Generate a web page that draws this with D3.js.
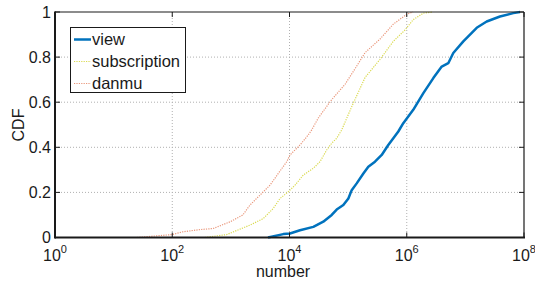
<!DOCTYPE html>
<html><head><meta charset="utf-8">
<script src="https://cdn.jsdelivr.net/npm/d3@7"></script>
<style>body{margin:0;background:#fff}svg{display:block;font-family:"Liberation Sans",Arial,sans-serif}</style>
</head><body><svg id="c" width="535" height="283"></svg>
<script>
const seriesNames = ["view", "subscription", "danmu"];
const viewX = [4.3e3, 7.84e3, 1.02e4, 1.51e4, 2.55e4, 3.77e4, 5.25e4, 6.38e4, 8.28e4, 1.01e5, 1.15e5, 1.40e5, 1.82e5, 2.21e5, 2.87e5, 3.74e5, 4.84e5, 5.90e5, 7.18e5, 8.73e5, 1.29e6, 1.92e6, 2.84e6, 3.95e6, 5.11e6, 6.22e6, 9.22e6, 1.56e7, 2.31e7, 3.89e7, 6.57e7, 8.55e7];
const viewY = [0, 0.015, 0.018, 0.032, 0.047, 0.07, 0.10, 0.124, 0.144, 0.173, 0.21, 0.24, 0.284, 0.314, 0.336, 0.366, 0.41, 0.44, 0.47, 0.507, 0.566, 0.64, 0.707, 0.758, 0.773, 0.818, 0.87, 0.93, 0.958, 0.98, 0.995, 1.0];
const subX = [360, 850, 2.12e3, 3.57e3, 5.29e3, 6.89e3, 9.55e3, 1.24e4, 1.72e4, 2.55e4, 3.31e4, 4.31e4, 5.25e4, 6.38e4, 7.77e4, 1.15e5, 1.95e5, 3.5e5, 5.9e5, 9.33e5, 1.29e6, 1.92e6, 2.8e6];
const subY = [0, 0.013, 0.055, 0.084, 0.129, 0.173, 0.203, 0.232, 0.277, 0.307, 0.336, 0.388, 0.418, 0.44, 0.477, 0.58, 0.71, 0.79, 0.87, 0.92, 0.966, 0.995, 1.0];
const danmuX = [25, 100, 150, 295, 500, 980, 1.6e3, 2.12e3, 3.14e3, 4.65e3, 6.44e3, 8.96e3, 1.02e4, 1.51e4, 2.09e4, 2.39e4, 3.1e4, 5.2e4, 8.9e4, 1.4e5, 1.95e5, 3.5e5, 5.9e5, 1.0e6, 1.28e6];
const danmuY = [0, 0.013, 0.025, 0.035, 0.04, 0.07, 0.10, 0.144, 0.188, 0.232, 0.284, 0.336, 0.366, 0.41, 0.455, 0.477, 0.53, 0.61, 0.68, 0.76, 0.82, 0.88, 0.946, 0.99, 1.0];
const xTickExps = [0, 2, 4, 6, 8];
const yTicks = [0, 0.2, 0.4, 0.6, 0.8, 1];
const yTickLabels = ["0", "0.2", "0.4", "0.6", "0.8", "1"];

const svg = d3.select("#c");
const L = 55, R = 524, T = 12, B = 237.5;
const x = d3.scaleLog().domain([1, 1e8]).range([L, R]);
const y = d3.scaleLinear().domain([0, 1]).range([B, T]);

// grid
const g = svg.append("g");
xTickExps.slice(1, -1).forEach(e => {
  g.append("line").attr("x1", x(10 ** e)).attr("x2", x(10 ** e)).attr("y1", T).attr("y2", B)
    .attr("stroke", "#b0b0b0").attr("stroke-width", 1).attr("stroke-dasharray", "1,2");
});
yTicks.slice(1, -1).forEach(v => {
  g.append("line").attr("x1", L).attr("x2", R).attr("y1", y(v)).attr("y2", y(v))
    .attr("stroke", "#b0b0b0").attr("stroke-width", 1).attr("stroke-dasharray", "1,2");
});

// curves
const mk = (xs, ys) => xs.map((v, i) => [v, ys[i]]);
const line = d3.line().x(d => x(d[0])).y(d => y(d[1]));
svg.append("path").datum(mk(danmuX, danmuY)).attr("d", line).attr("fill", "none")
  .attr("stroke", "#e9967a").attr("stroke-width", 1.2).attr("stroke-dasharray", "1.2,1.2");
svg.append("path").datum(mk(subX, subY)).attr("d", line).attr("fill", "none")
  .attr("stroke", "#dada50").attr("stroke-width", 1.2).attr("stroke-dasharray", "1.2,1.2");
svg.append("path").datum(mk(viewX, viewY)).attr("d", line).attr("fill", "none")
  .attr("stroke", "#0072BD").attr("stroke-width", 2.5).attr("stroke-linejoin", "round");

// axes box
const ax = svg.append("g").attr("stroke", "#1a1a1a");
ax.append("line").attr("x1", L).attr("x2", R).attr("y1", T).attr("y2", T).attr("stroke-width", 1.2);
ax.append("line").attr("x1", R).attr("x2", R).attr("y1", T).attr("y2", B).attr("stroke-width", 1.2);
ax.append("line").attr("x1", L).attr("x2", R + 1).attr("y1", B).attr("y2", B).attr("stroke-width", 2);
ax.append("line").attr("x1", L).attr("x2", L).attr("y1", T - 0.5).attr("y2", B + 1).attr("stroke-width", 2);
// ticks inside
xTickExps.forEach(e => {
  const px = x(10 ** e);
  ax.append("line").attr("x1", px).attr("x2", px).attr("y1", B).attr("y2", B - 5).attr("stroke-width", 1);
  ax.append("line").attr("x1", px).attr("x2", px).attr("y1", T).attr("y2", T + 5).attr("stroke-width", 1);
});
yTicks.forEach(v => {
  ax.append("line").attr("x1", L).attr("x2", L + 5).attr("y1", y(v)).attr("y2", y(v)).attr("stroke-width", 1);
  ax.append("line").attr("x1", R).attr("x2", R - 5).attr("y1", y(v)).attr("y2", y(v)).attr("stroke-width", 1);
});

// tick labels
yTicks.forEach((v, i) => {
  svg.append("text").attr("x", 51).attr("y", y(v) + 5.5).attr("text-anchor", "end")
    .attr("font-size", 16).attr("fill", "#1a1a1a").text(yTickLabels[i]);
});
xTickExps.forEach(e => {
  const t = svg.append("text").attr("x", x(10 ** e)).attr("y", 261).attr("text-anchor", "middle")
    .attr("font-size", 16).attr("fill", "#1a1a1a");
  t.append("tspan").text("10");
  t.append("tspan").attr("dy", -8).attr("font-size", 11).text(String(e));
});
svg.append("text").attr("x", 283).attr("y", 277).attr("text-anchor", "middle")
  .attr("font-size", 16).attr("fill", "#1a1a1a").text("number");
svg.append("text").attr("transform", "translate(24,125) rotate(-90)").attr("text-anchor", "middle")
  .attr("font-size", 16).attr("fill", "#1a1a1a").text("CDF");

// legend
const lg = svg.append("g");
lg.append("rect").attr("x", 70.5).attr("y", 27.5).attr("width", 115).attr("height", 65)
  .attr("fill", "#fff").attr("stroke", "#1a1a1a").attr("stroke-width", 1);
const styles = [
  {c: "#0072BD", w: 2.5, d: null},
  {c: "#dada50", w: 1.2, d: "1.2,1.2"},
  {c: "#e9967a", w: 1.2, d: "1.2,1.2"}
];
seriesNames.forEach((n, i) => {
  const cy = 39.5 + i * 22;
  const s = styles[i];
  const l = lg.append("line").attr("x1", 74).attr("x2", 91).attr("y1", cy).attr("y2", cy)
    .attr("stroke", s.c).attr("stroke-width", s.w);
  if (s.d) l.attr("stroke-dasharray", s.d);
  lg.append("text").attr("x", 92).attr("y", cy + 5.5).attr("font-size", 16.5).attr("fill", "#1a1a1a").text(n);
});
</script></body></html>
